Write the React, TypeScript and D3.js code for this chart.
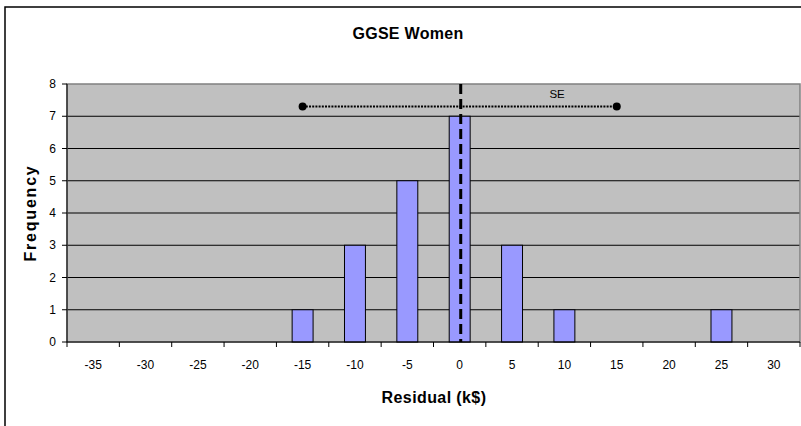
import React from "react";
import * as d3 from "d3";

const categories = [-35, -30, -25, -20, -15, -10, -5, 0, 5, 10, 15, 20, 25, 30];
const frequencies = [0, 0, 0, 0, 1, 3, 5, 7, 3, 1, 0, 0, 1, 0];
const yTicks = [0, 1, 2, 3, 4, 5, 6, 7, 8];
const meanResidual = [0.1];
const seRange = [-15, 15];
const seLevel = [7.3];
const seLabelPos = [9.3];

const W = 801;
const H = 426;
const plot = { left: 67, right: 800, top: 84, bottom: 342 };

export default function App() {
  const x = d3
    .scaleBand<string>()
    .domain(categories.map(String))
    .range([plot.left, plot.right])
    .paddingInner(0)
    .paddingOuter(0);
  const band = x.bandwidth();
  const barW = band / 2.5;
  const y = d3.scaleLinear().domain([0, 8]).range([plot.bottom, plot.top]);
  // value scale aligned with category centers
  const xv = d3
    .scaleLinear()
    .domain([categories[0], categories[categories.length - 1]])
    .range([
      (x(String(categories[0])) as number) + band / 2,
      (x(String(categories[categories.length - 1])) as number) + band / 2,
    ]);

  const font = "'Liberation Sans', Arial, sans-serif";
  const tickBoundaries = d3.range(categories.length + 1).map((i) => plot.left + i * band);

  return (
    <svg width={W} height={H} style={{ display: "block", position: "absolute", left: 0, top: 0 }}>
      <rect x={0} y={0} width={W} height={H} fill="#fff" />
      <rect x={5} y={7} width={W + 20} height={H + 20} fill="#fff" stroke="#000" strokeWidth={1.5} />
      <text x={408} y={39} textAnchor="middle" fontFamily={font} fontWeight="bold" fontSize={16} letterSpacing={0.3}>
        GGSE Women
      </text>
      {/* plot area */}
      <rect
        x={plot.left}
        y={plot.top}
        width={plot.right - plot.left}
        height={plot.bottom - plot.top}
        fill="#C0C0C0"
      />
      {yTicks.slice(1, -1).map((t) => (
        <line key={t} x1={plot.left} x2={plot.right} y1={y(t)} y2={y(t)} stroke="#000" strokeWidth={1} />
      ))}
      <rect
        x={plot.left}
        y={plot.top}
        width={plot.right - plot.left}
        height={plot.bottom - plot.top}
        fill="none"
        stroke="#808080"
        strokeWidth={1.5}
      />
      {/* bars */}
      {categories.map((c, i) =>
        frequencies[i] > 0 ? (
          <rect
            key={c}
            x={(x(String(c)) as number) + band / 2 - barW / 2}
            y={y(frequencies[i])}
            width={barW}
            height={y(0) - y(frequencies[i])}
            fill="#9999FF"
            stroke="#000"
            strokeWidth={1}
          />
        ) : null
      )}
      {/* axes */}
      <line x1={plot.left} x2={plot.left} y1={plot.top} y2={plot.bottom} stroke="#000" strokeWidth={1} />
      <line x1={plot.left} x2={plot.right} y1={plot.bottom} y2={plot.bottom} stroke="#000" strokeWidth={1} />
      {yTicks.map((t) => (
        <g key={t}>
          <line x1={plot.left - 5} x2={plot.left} y1={y(t)} y2={y(t)} stroke="#000" />
          <text x={56} y={y(t)} dy="0.35em" textAnchor="end" fontFamily={font} fontSize={12}>
            {t}
          </text>
        </g>
      ))}
      {tickBoundaries.map((bx, i) => (
        <line key={i} x1={bx} x2={bx} y1={plot.bottom} y2={plot.bottom + 5} stroke="#000" />
      ))}
      {categories.map((c) => (
        <text
          key={c}
          x={(x(String(c)) as number) + band / 2}
          y={369}
          textAnchor="middle"
          fontFamily={font}
          fontSize={12}
        >
          {c}
        </text>
      ))}
      {/* mean dashed line */}
      <line
        x1={xv(meanResidual[0])}
        x2={xv(meanResidual[0])}
        y1={plot.top}
        y2={plot.bottom}
        stroke="#000"
        strokeWidth={3}
        strokeDasharray="10,5"
      />
      {/* SE line */}
      <line
        x1={xv(seRange[0])}
        x2={xv(seRange[1])}
        y1={y(seLevel[0])}
        y2={y(seLevel[0])}
        stroke="#000"
        strokeWidth={2}
        strokeDasharray="2,1.2"
      />
      {seRange.map((v) => (
        <circle key={v} cx={xv(v)} cy={y(seLevel[0])} r={4} fill="#000" />
      ))}
      <text x={xv(seLabelPos[0])} y={98} textAnchor="middle" fontFamily={font} fontSize={11.5}>
        SE
      </text>
      {/* axis titles */}
      <text x={434} y={403} textAnchor="middle" fontFamily={font} fontWeight="bold" fontSize={16} letterSpacing={0.4}>
        Residual (k$)
      </text>
      <text
        transform={`translate(36, ${(plot.top + plot.bottom) / 2}) rotate(-90)`}
        textAnchor="middle"
        fontFamily={font}
        fontWeight="bold"
        fontSize={16}
        letterSpacing={1.8}
      >
        Frequency
      </text>
    </svg>
  );
}
